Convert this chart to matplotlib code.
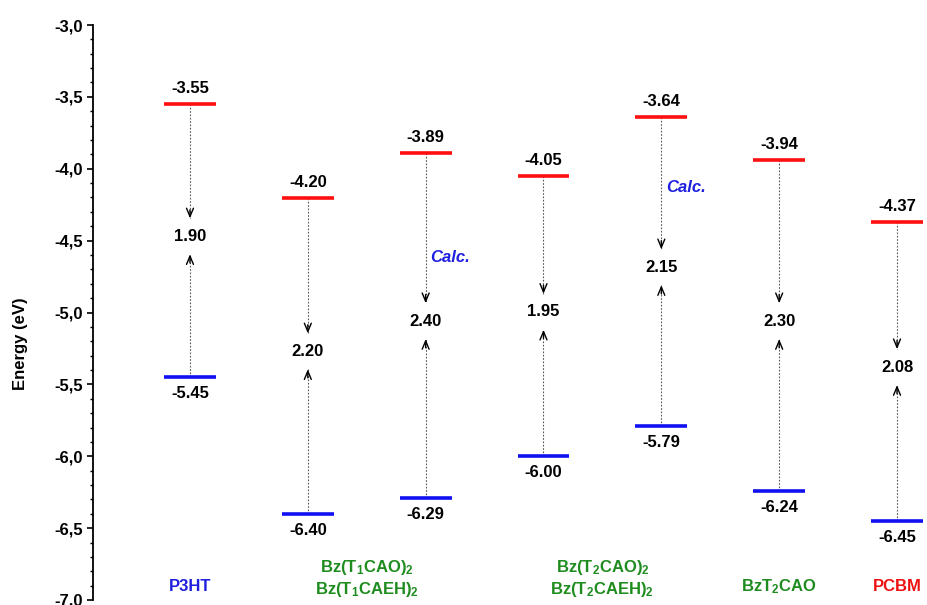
import numpy as np
import matplotlib.pyplot as plt
from matplotlib.ticker import FixedLocator, MultipleLocator

# energy levels (eV)
names = ['P3HT', 'Bz(T1CAO)2', 'Bz(T1CAEH)2', 'Bz(T2CAO)2', 'Bz(T2CAEH)2', 'BzT2CAO', 'PCBM']
lumo = [-3.55, -4.20, -3.89, -4.05, -3.64, -3.94, -4.37]
homo = [-5.45, -6.40, -6.29, -6.00, -5.79, -6.24, -6.45]

# labels under the levels
group_labels = ['P3HT',
                r'Bz(T$_\mathbf{1}$CAO)$_\mathbf{2}$' + '\n' + r'Bz(T$_\mathbf{1}$CAEH)$_\mathbf{2}$',
                r'Bz(T$_\mathbf{2}$CAO)$_\mathbf{2}$' + '\n' + r'Bz(T$_\mathbf{2}$CAEH)$_\mathbf{2}$',
                r'BzT$_\mathbf{2}$CAO',
                'PCBM']
group_pos = [1, 2.5, 4.5, 6, 7]
group_colors = ['#1f1fe0', '#1e8c1e', '#1e8c1e', '#1e8c1e', '#ee1111']

calc_cols = [3, 5]
calc_energy = [-4.62, -4.13]

ytick_vals = [-3.0, -3.5, -4.0, -4.5, -5.0, -5.5, -6.0, -6.5, -7.0]
ytick_labels = ['-3,0', '-3,5', '-4,0', '-4,5', '-5,0', '-5,5', '-6,0', '-6,5', '-7,0']


def main():
    plt.rcParams['font.family'] = ['Liberation Sans', 'DejaVu Sans']
    plt.rcParams['font.weight'] = 'bold'
    plt.rcParams['mathtext.fontset'] = 'custom'
    plt.rcParams['mathtext.rm'] = 'Liberation Sans:bold'
    plt.rcParams['mathtext.bf'] = 'Liberation Sans:bold'
    plt.rcParams['mathtext.it'] = 'Liberation Sans:bold:italic'

    fig = plt.figure(figsize=(9.28, 6.05), dpi=100)
    ax = fig.add_axes([93 / 928, 5 / 605, 835 / 928, 575 / 605])

    x = np.arange(1, len(names) + 1)
    hw = 0.22
    ax.hlines(lumo, x - hw, x + hw, colors='#ff0f0f', linewidth=2.6, zorder=3)
    ax.hlines(homo, x - hw, x + hw, colors='#1010f0', linewidth=2.6, zorder=3)

    for xi, l, h in zip(x, lumo, homo):
        mid = (l + h) / 2 + 0.03
        top_tip = mid + 0.125
        bot_tip = mid - 0.125
        ax.plot([xi, xi], [l, top_tip], color='#555555', lw=0.8,
                linestyle=(0, (1.5, 1.5)), zorder=2)
        ax.plot([xi, xi], [h, bot_tip], color='#555555', lw=0.8,
                linestyle=(0, (1.5, 1.5)), zorder=2)
        arrow = dict(arrowstyle='->,head_length=0.6,head_width=0.25', color='black',
                     lw=1.0, shrinkA=0, shrinkB=0)
        ax.annotate('', xy=(xi, top_tip), xytext=(xi, top_tip + 0.06), arrowprops=arrow)
        ax.annotate('', xy=(xi, bot_tip), xytext=(xi, bot_tip - 0.06), arrowprops=arrow)
        ax.text(xi, mid, f'{l - h:.2f}', ha='center', va='center', fontsize=12,
                fontweight='bold')
        ax.annotate(f'{l:.2f}', xy=(xi, l), xytext=(0, 11), textcoords='offset points',
                    ha='center', va='center', fontsize=12, fontweight='bold')
        ax.annotate(f'{h:.2f}', xy=(xi, h), xytext=(0, -12), textcoords='offset points',
                    ha='center', va='center', fontsize=12, fontweight='bold')

    for c, e in zip(calc_cols, calc_energy):
        ax.text(c + 0.04, e, 'Calc.', ha='left', va='center', fontsize=12,
                fontweight='bold', fontstyle='italic', color='#1f1fe0')

    for lab, gx, col in zip(group_labels, group_pos, group_colors):
        if '\n' in lab:
            ax.text(gx, -6.85, lab, ha='center', va='center', fontsize=12,
                    fontweight='bold', color=col, linespacing=1.25)
        else:
            ax.text(gx, -6.905, lab, ha='center', va='center', fontsize=12,
                    fontweight='bold', color=col)

    ax.set_xlim(0.177, 7.263)
    ax.set_ylim(-7.0, -3.0)
    ax.yaxis.set_major_locator(FixedLocator(ytick_vals))
    ax.set_yticklabels(ytick_labels)
    ax.yaxis.set_minor_locator(MultipleLocator(0.1))
    ax.tick_params(axis='y', which='major', direction='out', length=4.5, width=1.2,
                   labelsize=12, pad=3)
    ax.tick_params(axis='y', which='minor', direction='out', length=2.5, width=1.0)
    for t in ax.get_yticklabels():
        t.set_fontweight('bold')
    ax.set_xticks([])

    for s in ['top', 'right', 'bottom']:
        ax.spines[s].set_visible(False)
    ax.spines['left'].set_linewidth(1.3)

    ax.set_ylabel('Energy (eV)', fontsize=12, fontweight='bold')
    ax.yaxis.set_label_coords(-0.078, 0.445)

    fig.savefig('out.png', dpi=100)


if __name__ == '__main__':
    main()
